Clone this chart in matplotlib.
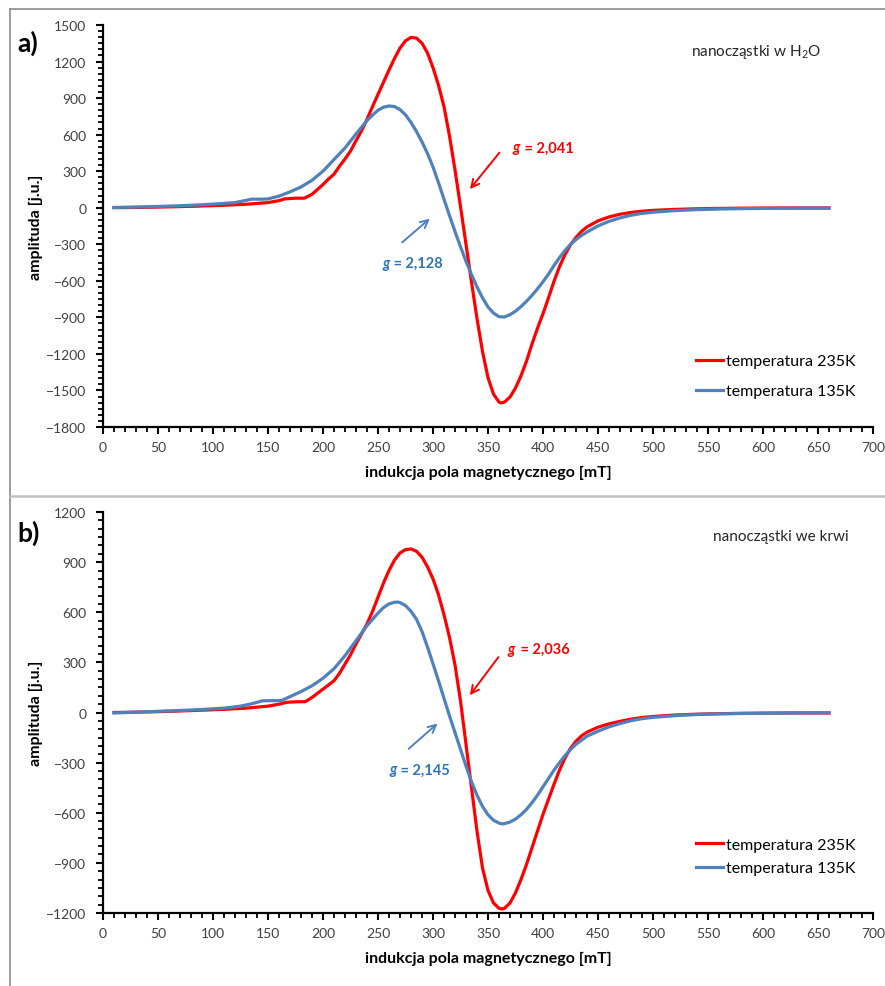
import matplotlib
matplotlib.use('Agg')
import matplotlib.pyplot as plt
import numpy as np
from matplotlib.lines import Line2D
from matplotlib.ticker import MultipleLocator

plt.rcParams['font.family'] = ['Lato', 'DejaVu Sans']

# --- DATA ---
# panel a) nanoczastki w H2O
a_x_235 = [10, 30, 50, 70, 90, 110, 130, 150, 160, 165, 175, 183, 190, 195, 200, 205, 210,
           215, 220, 225, 230, 235, 240, 245, 250, 255, 260, 265, 270, 275, 280, 285, 290,
           295, 300, 305, 310, 315, 320, 325, 330, 335, 340, 345, 350, 355, 360, 362, 365,
           370, 375, 380, 385, 390, 395, 400, 405, 410, 415, 420, 425, 430, 435, 440, 450, 460,
           470, 480, 490, 500, 520, 540, 560, 580, 600, 620, 640, 660]
a_y_235 = [0, 2, 5, 9, 14, 20, 28, 42, 58, 72, 78, 78, 110, 150, 190, 235, 275,
           340, 400, 465, 550, 630, 725, 830, 930, 1030, 1130, 1225, 1310, 1370, 1398, 1392, 1350,
           1270, 1150, 1005, 830, 590, 310, 10, -300, -610, -910, -1180, -1395, -1530, -1595, -1603, -1595,
           -1555, -1480, -1380, -1260, -1120, -990, -870, -740, -605, -485, -385, -305, -245, -195, -158, -108, -76,
           -54, -39, -29, -22, -14, -9, -6, -4, -3, -2, -2, -2]

a_x_135 = [10, 30, 50, 70, 90, 110, 120, 130, 135, 145, 150, 160, 170, 180, 190, 200, 210,
           220, 230, 240, 245, 250, 255, 260, 265, 270, 275, 280, 285, 290, 295, 300, 305,
           310, 315, 320, 325, 330, 335, 340, 345, 350, 355, 360, 365, 370, 375, 380, 385,
           390, 395, 400, 405, 410, 415, 420, 425, 430, 435, 440, 450, 460, 470, 480, 490, 500,
           520, 540, 560, 580, 600, 620, 640, 660]
a_y_135 = [2, 5, 10, 16, 24, 35, 42, 60, 70, 70, 72, 95, 130, 170, 225, 300, 395,
           490, 605, 715, 760, 800, 825, 835, 830, 805, 762, 700, 625, 540, 445, 335, 205,
           70, -65, -195, -320, -440, -550, -650, -740, -815, -865, -895, -897, -878, -850, -812, -768,
           -720, -666, -608, -545, -475, -410, -352, -302, -262, -228, -200, -150, -112, -84, -62, -47, -37,
           -24, -16, -11, -8, -6, -5, -4, -4]

# panel b) nanoczastki we krwi
b_x_235 = [10, 30, 50, 70, 90, 110, 130, 150, 160, 167, 175, 184, 190, 195, 200, 205, 210,
           215, 220, 225, 230, 235, 240, 245, 250, 255, 260, 265, 270, 275, 280, 285, 290,
           295, 300, 305, 310, 315, 320, 325, 330, 335, 340, 345, 350, 355, 360, 363, 365,
           370, 375, 380, 385, 390, 395, 400, 405, 410, 415, 420, 425, 430, 435, 440, 450, 460,
           470, 480, 490, 500, 520, 540, 560, 580, 600, 620, 640, 660]
b_y_235 = [0, 2, 5, 9, 14, 19, 26, 38, 50, 61, 64, 65, 90, 115, 140, 165, 190,
           235, 290, 345, 410, 470, 530, 605, 690, 775, 850, 912, 955, 975, 979, 965, 930,
           872, 800, 705, 585, 450, 285, 70, -190, -450, -710, -930, -1065, -1140, -1172, -1176, -1172,
           -1140, -1080, -1000, -910, -810, -710, -610, -520, -430, -345, -272, -215, -172, -140, -118, -88, -68,
           -53, -40, -30, -24, -15, -10, -7, -5, -4, -3, -3, -3]

b_x_135 = [10, 30, 50, 70, 90, 110, 125, 135, 145, 155, 162, 170, 180, 190, 200, 210, 220,
           230, 240, 250, 255, 260, 265, 268, 270, 275, 280, 285, 290, 295, 300, 305, 310,
           315, 320, 325, 330, 335, 340, 345, 350, 355, 360, 363, 365, 370, 375, 380, 385,
           390, 395, 400, 405, 410, 415, 420, 425, 430, 440, 450, 460, 470, 480, 490, 500,
           520, 540, 560, 580, 600, 620, 640, 660]
b_y_135 = [-3, 2, 7, 12, 18, 26, 38, 52, 70, 71, 71, 95, 125, 160, 205, 262, 340,
           430, 520, 595, 628, 650, 660, 661, 658, 640, 606, 558, 485, 392, 292, 190, 85,
           -20, -120, -220, -320, -415, -495, -562, -612, -645, -662, -667, -665, -656, -638, -612, -580,
           -540, -495, -445, -395, -345, -300, -258, -222, -190, -142, -112, -86, -66, -49, -37, -29,
           -19, -12, -8, -6, -4, -3, -2, -1]

labels = ['temperatura 235K', 'temperatura 135K']
panel_titles = ['nanocząstki w H$_\\mathregular{2}$O', 'nanocząstki we krwi']
g_red = ['2,041', '2,036']
g_blue = ['2,128', '2,145']

# --- STYLE ---
red = '#FF0000'
blue = '#4F81BD'
blue_txt = '#2E75B6'
tick_col = '#404040'
lw = 2.3

fig = plt.figure(figsize=(8.85, 9.87), dpi=100)

# frame lines around the two panels
fig.add_artist(Line2D([10/885, 1], [1-10/987, 1-10/987], color='#8c8c8c', lw=1.2))
fig.add_artist(Line2D([10/885, 10/885], [0, 1-10/987], color='#8c8c8c', lw=1.2))
fig.add_artist(Line2D([10/885, 1], [1-497/987, 1-497/987], color='#c0c0c0', lw=1.8))

ax1 = fig.add_axes([0.1164, 0.5664, 0.870, 0.4073])
ax2 = fig.add_axes([0.1164, 0.0740, 0.870, 0.4062])

panels = [
    (ax1, a_x_235, a_y_235, a_x_135, a_y_135, (-1800, 1500)),
    (ax2, b_x_235, b_y_235, b_x_135, b_y_135, (-1200, 1200)),
]
title_pos = [(0.848, 0.935), (0.880, 0.940)]
legend_pos = [(0.762, 0.126, 1.0), (0.762, 0.141, 0.6)]

for i, (ax, xr, yr, xb, yb, ylim) in enumerate(panels):
    ax.plot(xr, yr, color=red, lw=lw, label=labels[0], solid_joinstyle='round')
    ax.plot(xb, yb, color=blue, lw=lw, label=labels[1], solid_joinstyle='round')

    ax.set_xlim(0, 700)
    ax.set_ylim(*ylim)
    ax.xaxis.set_major_locator(MultipleLocator(50))
    ax.xaxis.set_minor_locator(MultipleLocator(10))
    ax.yaxis.set_major_locator(MultipleLocator(300))
    ax.yaxis.set_minor_locator(MultipleLocator(50))
    ax.tick_params(which='major', direction='out', length=5, width=1.5, color='black',
                   labelsize=10, labelcolor=tick_col)
    ax.tick_params(which='minor', direction='out', length=3.5, width=1.3, color='black')
    ax.tick_params(axis='y', which='major', pad=7)
    ax.tick_params(axis='x', which='major', pad=5)

    for s in ['top', 'right']:
        ax.spines[s].set_visible(False)
    for s in ['left', 'bottom']:
        ax.spines[s].set_linewidth(1.6)
        ax.spines[s].set_color('black')

    ax.set_xlabel('indukcja pola magnetycznego [mT]', fontsize=11.5, fontweight='bold', labelpad=9)
    ax.set_ylabel('amplituda [j.u.]', fontsize=11.5, fontweight='bold', labelpad=2)

    ax.text(title_pos[i][0], title_pos[i][1], panel_titles[i], transform=ax.transAxes,
            fontsize=11, color='#262626', ha='center', va='center')

    lx, ly, ls = legend_pos[i]
    ax.legend(loc='center left', bbox_to_anchor=(lx, ly), frameon=False, fontsize=11.5,
              handlelength=1.7, handletextpad=0.15, labelspacing=ls, borderaxespad=0)

# panel letters
fig.text(17/885, 1-43/987, 'a)', fontsize=19, fontweight='bold', va='center', ha='left')
fig.text(17/885, 1-533/987, 'b)', fontsize=19, fontweight='bold', va='center', ha='left')

# g-factor annotations
annots = [
    # ax, red text pos, red arrow (tail, head), blue text pos, blue arrow (tail, head)
    (ax1, (372, 495), ((362, 470), (332, 135)), (262, -450), ((270, -300), (299, -75))),
    (ax2, (368, 380), ((361, 345), (332, 90)), (268, -340), ((276, -228), (306, -55))),
]
for i, (ax, rt, ra, bt, ba) in enumerate(annots):
    ax.annotate('', xy=ra[1], xytext=ra[0],
                arrowprops=dict(arrowstyle='->', color=red, lw=1.4, mutation_scale=14))
    ax.annotate('', xy=ba[1], xytext=ba[0],
                arrowprops=dict(arrowstyle='->', color=blue, lw=1.4, mutation_scale=14))
    ax.text(rt[0], rt[1], 'g', color=red, fontsize=10.5, fontweight='bold', fontstyle='italic',
            ha='left', va='center')
    ax.text(rt[0] + 8, rt[1], ' = ' + g_red[i], color=red, fontsize=10.5, fontweight='bold',
            ha='left', va='center')
    ax.text(bt[0] - 1, bt[1], 'g', color=blue_txt, fontsize=10.5, fontweight='bold', fontstyle='italic',
            ha='right', va='center')
    ax.text(bt[0] - 1, bt[1], ' = ' + g_blue[i], color=blue_txt, fontsize=10.5, fontweight='bold',
            ha='left', va='center')

fig.align_ylabels([ax1, ax2])
plt.savefig('out.png', dpi=100)
